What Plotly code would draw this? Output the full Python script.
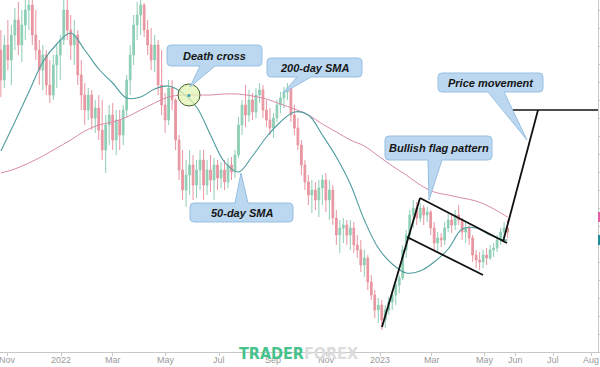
import plotly.graph_objects as go
import pandas as pd

# ---------------- data ----------------
start_date = "2021-10-24"
n_candles = 146
dates = pd.date_range(start_date, periods=n_candles, freq="4D")

open_ = [302, 272, 307, 292, 317, 332, 307, 327, 342, 347,
         317, 302, 282, 297, 267, 257, 287, 297, 312, 342,
         322, 307, 317, 277, 257, 242, 257, 234, 244, 222,
         202, 227, 237, 212, 232, 217, 242, 272, 297, 327,
         337, 347, 322, 307, 292, 307, 267, 247, 232, 264,
         252, 212, 182, 162, 177, 187, 167, 182, 192, 167,
         182, 172, 187, 174, 182, 170, 187, 180, 197, 227,
         247, 237, 252, 240, 257, 262, 242, 232, 224, 234,
         247, 254, 260, 264, 237, 224, 207, 187, 170, 157,
         162, 152, 164, 172, 152, 162, 134, 117, 124, 127,
         117, 124, 107, 102, 87, 94, 70, 57, 42, 47,
         32, 42, 50, 57, 67, 74, 102, 117, 137, 144,
         134, 144, 137, 140, 124, 109, 114, 112, 124, 132,
         127, 137, 132, 120, 124, 114, 97, 92, 90, 97,
         94, 102, 104, 112, 120, 124]
high = [322, 317, 332, 327, 344, 350, 342, 357, 367, 362,
        342, 312, 307, 302, 292, 297, 307, 317, 357, 352,
        337, 332, 322, 292, 269, 264, 262, 252, 257, 252,
        237, 247, 249, 242, 242, 247, 277, 307, 337, 350,
        357, 349, 332, 324, 317, 312, 302, 259, 272, 272,
        254, 217, 202, 192, 202, 197, 192, 202, 202, 192,
        197, 194, 192, 190, 192, 194, 195, 202, 235, 252,
        267, 262, 259, 264, 269, 267, 252, 244, 239, 252,
        260, 265, 269, 266, 247, 234, 212, 192, 177, 172,
        170, 172, 177, 179, 172, 167, 142, 132, 134, 132,
        132, 130, 117, 112, 102, 97, 77, 62, 54, 52,
        47, 55, 62, 72, 77, 107, 122, 142, 152, 150,
        149, 147, 145, 142, 130, 120, 119, 130, 139, 137,
        142, 147, 134, 130, 127, 117, 102, 100, 102, 104,
        107, 109, 117, 124, 130, 132]
low = [255, 264, 282, 267, 302, 297, 290, 312, 322, 307,
       292, 267, 262, 257, 249, 252, 264, 272, 307, 312,
       292, 287, 267, 242, 227, 232, 222, 219, 212, 192,
       179, 207, 202, 197, 202, 207, 234, 257, 287, 312,
       317, 315, 297, 282, 280, 257, 237, 219, 227, 242,
       202, 172, 152, 145, 157, 152, 154, 162, 152, 157,
       160, 152, 162, 164, 162, 164, 172, 174, 194, 217,
       225, 230, 232, 234, 249, 234, 225, 217, 214, 230,
       239, 244, 252, 230, 217, 202, 177, 162, 147, 139,
       142, 135, 147, 140, 132, 127, 107, 99, 109, 107,
       102, 99, 94, 80, 75, 62, 52, 34, 29, 22,
       24, 37, 42, 47, 59, 72, 94, 112, 124, 127,
       130, 127, 130, 117, 102, 99, 105, 107, 120, 119,
       122, 127, 112, 109, 107, 90, 84, 82, 84, 87,
       92, 95, 100, 107, 112, 114]
close = [272, 307, 292, 317, 332, 307, 327, 342, 347, 317,
         302, 282, 297, 267, 257, 287, 297, 312, 342, 322,
         307, 317, 277, 257, 242, 257, 234, 244, 222, 202,
         227, 237, 212, 232, 217, 242, 272, 297, 327, 337,
         347, 322, 307, 292, 307, 267, 247, 232, 264, 252,
         212, 182, 162, 177, 187, 167, 182, 192, 167, 182,
         172, 187, 174, 182, 170, 187, 180, 197, 227, 247,
         237, 252, 240, 257, 262, 242, 232, 224, 234, 247,
         254, 260, 264, 237, 224, 207, 187, 170, 157, 162,
         152, 164, 172, 152, 162, 134, 117, 124, 127, 117,
         124, 107, 102, 87, 94, 70, 57, 42, 47, 32,
         42, 50, 57, 67, 74, 102, 117, 137, 144, 134,
         144, 137, 140, 124, 109, 114, 112, 124, 132, 127,
         137, 132, 120, 124, 114, 97, 92, 90, 97, 94,
         102, 104, 112, 120, 124, 120]

# moving averages sampled at every 4th candle (plus the last one)
sma_index = list(range(0, 145, 4)) + [145]
sma50 = [201, 230, 260, 290, 308, 319, 302, 283, 269, 254,
         255, 263, 266, 259, 245, 217, 190, 180, 196, 215,
         230, 240, 237, 217, 195, 168, 132, 104, 88, 79,
         81, 90, 103, 123, 124, 117, 112, 112]
sma200 = [179, 183, 189, 196, 204, 212, 221, 227, 230, 235,
          242, 249, 255, 257, 257, 257, 258, 258, 256, 253,
          248, 243, 237, 228, 220, 212, 206, 196, 186, 177,
          167, 160, 157, 154, 151, 145, 137, 135]

tick_dates = ["2021-11-01", "2022-01-01", "2022-03-01", "2022-05-01",
              "2022-07-01", "2022-09-01", "2022-11-01", "2023-01-01",
              "2023-03-01", "2023-05-01", "2023-06-05", "2023-07-18",
              "2023-08-31"]
tick_labels = ["Nov", "2022", "Mar", "May", "Jul", "Sep", "Nov", "2023",
               "Mar", "May", "Jun", "Jul", "Aug"]

# ---------------- figure ----------------
W, H = 600, 367
PLOT_W, PLOT_H = 598, 352

sma_dates = [dates[i] for i in sma_index]

fig = go.Figure()
fig.add_trace(go.Candlestick(
    x=dates, open=open_, high=high, low=low, close=close,
    increasing=dict(line=dict(color="#72c3a3", width=1), fillcolor="#72c3a3"),
    decreasing=dict(line=dict(color="#e37d8a", width=1), fillcolor="#e37d8a"),
    whiskerwidth=0, opacity=0.8, showlegend=False, hoverinfo="skip"))
fig.add_trace(go.Scatter(
    x=sma_dates, y=sma200, mode="lines",
    line=dict(color="#d98aab", width=1, shape="spline", smoothing=1.0),
    showlegend=False, hoverinfo="skip"))
fig.add_trace(go.Scatter(
    x=sma_dates, y=sma50, mode="lines",
    line=dict(color="#4f9b9d", width=1.1, shape="spline", smoothing=1.0),
    showlegend=False, hoverinfo="skip"))


def px(x):
    return x / PLOT_W


def py(y):
    return (PLOT_H - y) / PLOT_H


shapes = []
annotations = []

BOX_FILL = "#bcd8f0"
BOX_LINE = "#96bfe2"


def callout(x0, y0, x1, y1, bx0, bx1, tip, text, up=False, r=4):
    tx, ty = tip
    if not up:
        path = (f"M {px(x0 + r)},{py(y0)} L {px(x1 - r)},{py(y0)} "
                f"Q {px(x1)},{py(y0)} {px(x1)},{py(y0 + r)} "
                f"L {px(x1)},{py(y1 - r)} Q {px(x1)},{py(y1)} {px(x1 - r)},{py(y1)} "
                f"L {px(bx1)},{py(y1)} L {px(tx)},{py(ty)} L {px(bx0)},{py(y1)} "
                f"L {px(x0 + r)},{py(y1)} Q {px(x0)},{py(y1)} {px(x0)},{py(y1 - r)} "
                f"L {px(x0)},{py(y0 + r)} Q {px(x0)},{py(y0)} {px(x0 + r)},{py(y0)} Z")
    else:
        path = (f"M {px(x0 + r)},{py(y0)} L {px(bx0)},{py(y0)} L {px(tx)},{py(ty)} "
                f"L {px(bx1)},{py(y0)} L {px(x1 - r)},{py(y0)} "
                f"Q {px(x1)},{py(y0)} {px(x1)},{py(y0 + r)} "
                f"L {px(x1)},{py(y1 - r)} Q {px(x1)},{py(y1)} {px(x1 - r)},{py(y1)} "
                f"L {px(x0 + r)},{py(y1)} Q {px(x0)},{py(y1)} {px(x0)},{py(y1 - r)} "
                f"L {px(x0)},{py(y0 + r)} Q {px(x0)},{py(y0)} {px(x0 + r)},{py(y0)} Z")
    shapes.append(dict(type="path", xref="paper", yref="paper", path=path,
                       fillcolor=BOX_FILL, line=dict(color=BOX_LINE, width=1),
                       layer="above"))
    annotations.append(dict(xref="paper", yref="paper",
                            x=px((x0 + x1) / 2), y=py((y0 + y1) / 2),
                            text=f"<b><i>{text}</i></b>", showarrow=False,
                            xanchor="center", yanchor="middle",
                            font=dict(family="Liberation Sans, Arial, sans-serif",
                                      size=11, color="#151515")))


def seg(x0, y0, x1, y1, w=1.8):
    shapes.append(dict(type="line", xref="paper", yref="paper",
                       x0=px(x0), y0=py(y0), x1=px(x1), y1=py(y1),
                       line=dict(color="#111111", width=w), layer="above"))


# flag pattern and price movement lines
seg(382, 327, 420, 198)
seg(420, 198, 507, 243)
seg(407, 237, 483, 275)
seg(503, 242, 538, 110)
seg(507, 110, 598, 110, w=1.5)

# death cross circle with its centre dot
shapes.append(dict(type="circle", xref="paper", yref="paper",
                   x0=px(178), y0=py(106), x1=px(200), y1=py(84),
                   fillcolor="rgba(226,244,180,0.75)",
                   line=dict(color="#42612c", width=1), layer="above"))
shapes.append(dict(type="circle", xref="paper", yref="paper",
                   x0=px(187.5), y0=py(97), x1=px(190.5), y1=py(94),
                   fillcolor="#3a9bb0", line=dict(width=0), layer="above"))

callout(167, 45, 262, 66, 200, 215, (190, 87), "Death cross")
callout(267, 58, 362, 77, 297, 311, (283, 93), "200-day SMA")
callout(438, 73, 543, 92, 488, 504, (527, 140), "Price movement")
callout(385, 136, 492, 160, 428, 442, (429, 200), "Bullish flag pattern")
callout(190, 203, 293, 222, 235, 248, (241, 173), "50-day SMA", up=True)

# right-edge value tags of the moving averages
shapes.append(dict(type="rect", xref="paper", yref="y", x0=1.0, x1=1.02,
                   y0=sma200[-1] - 5, y1=sma200[-1] + 5,
                   fillcolor="#e35fa3", line=dict(width=0), layer="above"))
shapes.append(dict(type="rect", xref="paper", yref="y", x0=1.0, x1=1.02,
                   y0=sma50[-1] - 5, y1=sma50[-1] + 5,
                   fillcolor="#1f8e9c", line=dict(width=0), layer="above"))

# x tick labels placed just under the axis line
for d, lab in zip(tick_dates, tick_labels):
    annotations.append(dict(xref="x", yref="paper", x=d, y=py(359.5),
                            xanchor="center", yanchor="middle", showarrow=False,
                            text=lab,
                            font=dict(family="Liberation Sans, Arial", size=9,
                                      color="#9a9a9a")))

# watermark
annotations.append(dict(xref="paper", yref="paper", x=px(298), y=py(353),
                        xanchor="center", yanchor="middle", showarrow=False,
                        text="<b><span style='color:#47c28c'>TRADER</span>"
                             "<span style='color:#dcdcdc'>FOREX</span></b>",
                        font=dict(family="DejaVu Sans Condensed, DejaVu Sans",
                                  size=16)))

fig.update_layout(
    width=W, height=H,
    margin=dict(l=0, r=W - PLOT_W, t=0, b=H - PLOT_H, autoexpand=False),
    paper_bgcolor="white", plot_bgcolor="white",
    shapes=shapes, annotations=annotations,
    showlegend=False, hovermode=False,
    xaxis=dict(type="date", range=["2021-10-23", "2023-09-07 12:00"],
               rangeslider=dict(visible=False), automargin=False,
               tickmode="array", tickvals=tick_dates, ticktext=tick_labels,
               showticklabels=False,
               showgrid=False, zeroline=False, showline=True,
               linecolor="#c8c8c8", linewidth=1,
               ticks="outside", ticklen=3, tickcolor="#c8c8c8"),
    yaxis=dict(range=[0, PLOT_H], side="right", showgrid=False,
               automargin=False,
               zeroline=False, showline=True, linecolor="#c8c8c8",
               ticks="outside", ticklen=3, tickcolor="#c8c8c8",
               tick0=0, dtick=18, showticklabels=False),
)

fig.write_html(
    "out.html",
    config={"displayModeBar": False, "staticPlot": True},
    post_script="document.body.style.margin='0';"
                "document.body.style.overflow='hidden';")
